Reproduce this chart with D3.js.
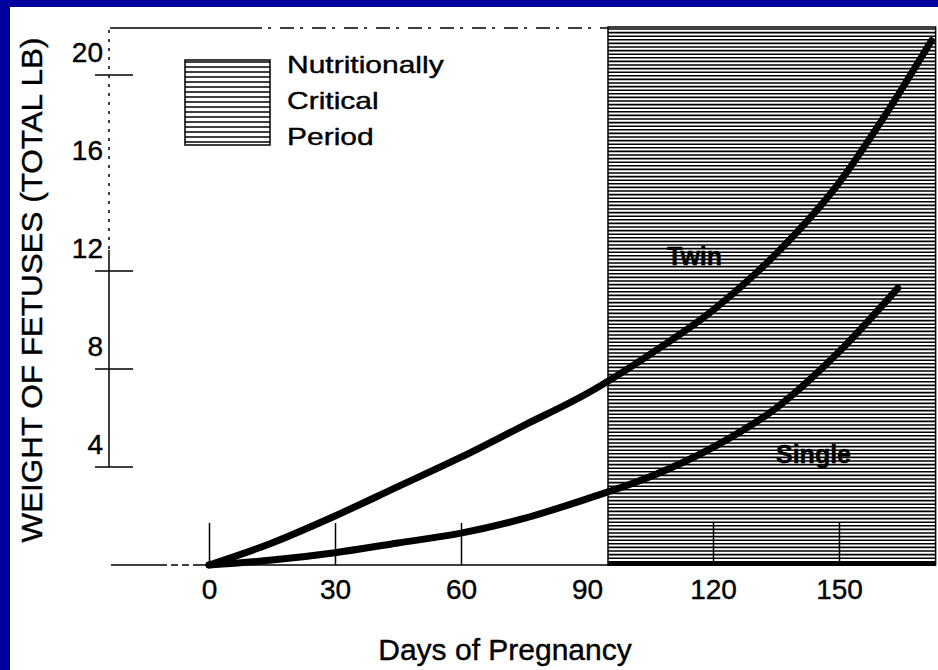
<!DOCTYPE html>
<html>
<head>
<meta charset="utf-8">
<script src="https://cdn.jsdelivr.net/npm/d3@7"></script>
<style>
  body { margin: 0; background: #00009e; }
  svg { display: block; }
  text { font-family: "Liberation Sans", Arial, sans-serif; fill: #000; stroke: #000; stroke-width: 0.4px; }
</style>
</head>
<body>
<svg width="938" height="670"></svg>
<script>
// fetal weight (total lb) by day of pregnancy
const twinDays = [0, 15, 30, 45, 60, 75, 90, 105, 120, 135, 150, 160, 172];
const twinWeight = [0, 0.9, 2.0, 3.2, 4.4, 5.7, 7.0, 8.6, 10.4, 12.7, 15.6, 18.1, 21.4];
const singleDays = [0, 15, 30, 45, 60, 75, 90, 105, 120, 135, 150, 164];
const singleWeight = [0, 0.2, 0.5, 0.9, 1.3, 1.9, 2.7, 3.6, 4.8, 6.4, 8.7, 11.3];

const xTicks = [0, 30, 60, 90, 120, 150];
const xTickMarks = [0, 30, 60, 120, 150]; // no mark drawn at 90
const yTicks = [4, 8, 12, 16, 20];
const yCrosses = [4, 8, 12, 20];
const criticalPeriod = [95, 173];
const legendLines = ["Nutritionally", "Critical", "Period"];

const svg = d3.select("svg");

// white sheet inside the blue frame
svg.append("rect").attr("x", 10).attr("y", 7).attr("width", 928).attr("height", 663).attr("fill", "#fff");

const x = d3.scaleLinear().domain([0, 150]).range([209, 839]);
const y = d3.scaleLinear().domain([0, 20]).range([565, 75]);
const plotTop = 27, base = 565;

// hatched "nutritionally critical" block
const hx0 = x(criticalPeriod[0]), hx1 = x(criticalPeriod[1]);
const hatch = svg.append("g");
hatch.selectAll("line")
  .data(d3.range(plotTop + 2, base, 3.6))
  .join("line")
  .attr("x1", hx0).attr("x2", hx1)
  .attr("y1", d => d).attr("y2", d => d)
  .attr("stroke", "#000").attr("stroke-width", 1.6);
hatch.append("rect")
  .attr("x", hx0).attr("y", plotTop).attr("width", hx1 - hx0).attr("height", base - plotTop)
  .attr("fill", "none").attr("stroke", "#000").attr("stroke-width", 1.5);

// top frame line
svg.append("line").attr("x1", 110).attr("x2", 248).attr("y1", 28).attr("y2", 28)
  .attr("stroke", "#000").attr("stroke-width", 1.5);
svg.append("line").attr("x1", 248).attr("x2", hx0).attr("y1", 28).attr("y2", 28)
  .attr("stroke", "#000").attr("stroke-width", 1.5).attr("stroke-dasharray", "14,6,3,9");

// left axis: dotted above, solid below
svg.append("line").attr("x1", 109).attr("x2", 109).attr("y1", 30).attr("y2", 250)
  .attr("stroke", "#000").attr("stroke-width", 1.5).attr("stroke-dasharray", "3,6");
svg.append("line").attr("x1", 109).attr("x2", 109).attr("y1", 250).attr("y2", y(4))
  .attr("stroke", "#000").attr("stroke-width", 1.5);
svg.append("g").selectAll("line")
  .data(yCrosses)
  .join("line")
  .attr("x1", 95).attr("x2", 133)
  .attr("y1", d => y(d)).attr("y2", d => y(d))
  .attr("stroke", "#000").attr("stroke-width", 1.5);

// y tick labels
const yAxis = svg.append("g")
  .attr("transform", "translate(103,-22)")
  .call(d3.axisLeft(y).tickValues(yTicks).tickSize(0).tickPadding(0));
yAxis.select(".domain").remove();
yAxis.selectAll("text").style("font-size", "28px").attr("fill", "#000");

// baseline
svg.append("line").attr("x1", 111).attr("x2", 160).attr("y1", base).attr("y2", base)
  .attr("stroke", "#000").attr("stroke-width", 1.5);
svg.append("line").attr("x1", 160).attr("x2", 200).attr("y1", base).attr("y2", base)
  .attr("stroke", "#000").attr("stroke-width", 1.5).attr("stroke-dasharray", "7,4");
svg.append("line").attr("x1", 200).attr("x2", hx0).attr("y1", base).attr("y2", base)
  .attr("stroke", "#000").attr("stroke-width", 1.5);
svg.append("line").attr("x1", hx0).attr("x2", hx1).attr("y1", base - 1).attr("y2", base - 1)
  .attr("stroke", "#000").attr("stroke-width", 4);

// x axis: upward marks and labels
const xAxis = svg.append("g")
  .attr("transform", `translate(0,${base})`)
  .call(d3.axisBottom(x).tickValues(xTicks).tickSizeInner(-42).tickSizeOuter(0).tickPadding(14));
xAxis.select(".domain").remove();
xAxis.selectAll(".tick line")
  .attr("stroke", "#000").attr("stroke-width", 1.5)
  .attr("display", d => xTickMarks.includes(d) ? null : "none");
xAxis.selectAll("text").style("font-size", "28px").attr("fill", "#000");

// growth curves
const line = d3.line().x(d => x(d[0])).y(d => y(d[1])).curve(d3.curveMonotoneX);
svg.append("path")
  .datum(d3.zip(twinDays, twinWeight))
  .attr("d", line)
  .attr("fill", "none").attr("stroke", "#000").attr("stroke-width", 7).attr("stroke-linecap", "round");
svg.append("path")
  .datum(d3.zip(singleDays, singleWeight))
  .attr("d", line)
  .attr("fill", "none").attr("stroke", "#000").attr("stroke-width", 7).attr("stroke-linecap", "round");

svg.append("text").attr("x", 667).attr("y", 265)
  .style("font-size", "25px").style("font-weight", "bold").text("Twin");
svg.append("text").attr("x", 776).attr("y", 463)
  .style("font-size", "25px").style("font-weight", "bold").text("Single");

// legend
const lg = svg.append("g").attr("transform", "translate(185,60)");
lg.selectAll("line")
  .data(d3.range(2, 85, 5))
  .join("line")
  .attr("x1", 0).attr("x2", 85)
  .attr("y1", d => d).attr("y2", d => d)
  .attr("stroke", "#000").attr("stroke-width", 1.5);
lg.append("rect").attr("width", 85).attr("height", 85)
  .attr("fill", "none").attr("stroke", "#000").attr("stroke-width", 1.5);
svg.append("g")
  .attr("transform", "translate(287,0) scale(1.25,1)")
  .selectAll("text")
  .data(legendLines)
  .join("text")
  .attr("x", 0)
  .attr("y", (d, i) => 73 + i * 36)
  .style("font-size", "24px")
  .text(d => d);

// axis titles
svg.append("text")
  .attr("transform", "translate(42,290) rotate(-90)")
  .attr("text-anchor", "middle")
  .attr("textLength", 505).attr("lengthAdjust", "spacingAndGlyphs")
  .style("font-size", "30px")
  .text("WEIGHT OF FETUSES (TOTAL LB)");
svg.append("text")
  .attr("x", 505).attr("y", 660)
  .attr("text-anchor", "middle")
  .style("font-size", "30px")
  .text("Days of Pregnancy");
</script>
</body>
</html>
